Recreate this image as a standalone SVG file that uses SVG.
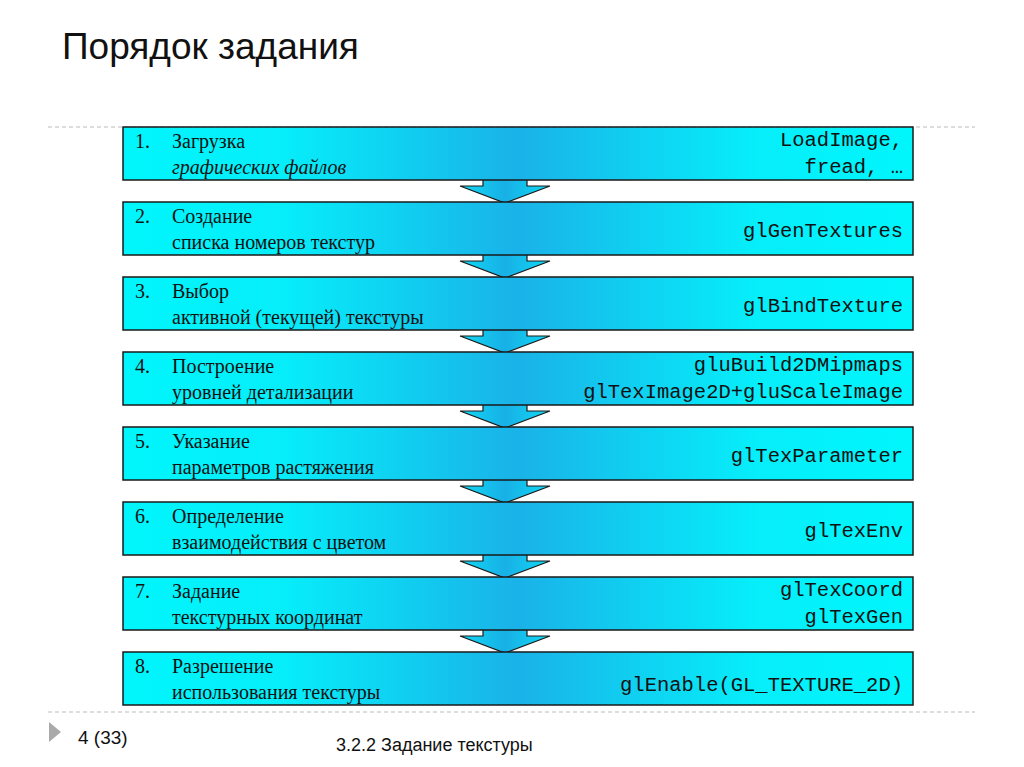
<svg xmlns="http://www.w3.org/2000/svg" width="1024" height="767" viewBox="0 0 1024 767">
<defs>
<linearGradient id="g" x1="0" y1="0" x2="1" y2="0">
<stop offset="0" stop-color="#00f6fc"/><stop offset="0.2" stop-color="#06eefa"/><stop offset="0.5" stop-color="#1ab2e8"/><stop offset="0.8" stop-color="#06eefa"/><stop offset="1" stop-color="#00f6fc"/>
</linearGradient>
<linearGradient id="ga" x1="0" y1="0" x2="1" y2="0">
<stop offset="0" stop-color="#10d8f4"/><stop offset="0.5" stop-color="#18b0e6"/><stop offset="1" stop-color="#10d8f4"/>
</linearGradient>
<style>
.b{fill:url(#g);stroke:#1a1a1a;stroke-width:1.5}
.a{fill:url(#ga);stroke:#1a1a1a;stroke-width:1.2}
.t{font-family:"Liberation Serif",serif;font-size:20px;fill:#111}
.m{font-family:"Liberation Mono",monospace;font-size:20.5px;fill:#111;text-anchor:end}
.d{stroke:#bbb;stroke-dasharray:4 3;stroke-width:1.2}
</style>
</defs>
<rect width="1024" height="767" fill="#fff"/>
<text x="62" y="59" font-family="Liberation Sans,sans-serif" font-size="37" fill="#111">Порядок задания</text>
<line class="d" x1="48" y1="127" x2="975" y2="127"/>
<line class="d" x1="48" y1="712" x2="975" y2="712"/>
<g id="connectors">
<path class="a" d="M483 180V186H460L505 203L550 186H527V180"/>
<path class="a" d="M483 255V261H460L505 278L550 261H527V255"/>
<path class="a" d="M483 330V336H460L505 353L550 336H527V330"/>
<path class="a" d="M483 405V411H460L505 428L550 411H527V405"/>
<path class="a" d="M483 480V486H460L505 503L550 486H527V480"/>
<path class="a" d="M483 555V561H460L505 578L550 561H527V555"/>
<path class="a" d="M483 630V636H460L505 653L550 636H527V630"/>
</g>
<g id="n1"><rect class="b" x="123" y="127" width="790" height="53"/><text class="t" x="135" y="148">1.</text><text class="t" x="172" y="148">Загрузка</text><text class="t" x="172" y="174" font-style="italic">графических файлов</text><text class="m" x="903" y="146">LoadImage,</text><text class="m" x="903" y="173">fread, …</text></g>
<g id="n2"><rect class="b" x="123" y="202" width="790" height="53"/><text class="t" x="135" y="223">2.</text><text class="t" x="172" y="223">Создание</text><text class="t" x="172" y="249">списка номеров текстур</text><text class="m" x="903" y="237">glGenTextures</text></g>
<g id="n3"><rect class="b" x="123" y="277" width="790" height="53"/><text class="t" x="135" y="298">3.</text><text class="t" x="172" y="298">Выбор</text><text class="t" x="172" y="324">активной (текущей) текстуры</text><text class="m" x="903" y="312">glBindTexture</text></g>
<g id="n4"><rect class="b" x="123" y="352" width="790" height="53"/><text class="t" x="135" y="373">4.</text><text class="t" x="172" y="373">Построение</text><text class="t" x="172" y="399">уровней детализации</text><text class="m" x="903" y="371">gluBuild2DMipmaps</text><text class="m" x="903" y="398">glTexImage2D+gluScaleImage</text></g>
<g id="n5"><rect class="b" x="123" y="427" width="790" height="53"/><text class="t" x="135" y="448">5.</text><text class="t" x="172" y="448">Указание</text><text class="t" x="172" y="474">параметров растяжения</text><text class="m" x="903" y="462">glTexParameter</text></g>
<g id="n6"><rect class="b" x="123" y="502" width="790" height="53"/><text class="t" x="135" y="523">6.</text><text class="t" x="172" y="523">Определение</text><text class="t" x="172" y="549">взаимодействия с цветом</text><text class="m" x="903" y="537">glTexEnv</text></g>
<g id="n7"><rect class="b" x="123" y="577" width="790" height="53"/><text class="t" x="135" y="598">7.</text><text class="t" x="172" y="598">Задание</text><text class="t" x="172" y="624">текстурных координат</text><text class="m" x="903" y="596">glTexCoord</text><text class="m" x="903" y="623">glTexGen</text></g>
<g id="n8"><rect class="b" x="123" y="652" width="790" height="53"/><text class="t" x="135" y="673">8.</text><text class="t" x="172" y="673">Разрешение</text><text class="t" x="172" y="699">использования текстуры</text><text class="m" x="903" y="691">glEnable(GL_TEXTURE_2D)</text></g>
<path d="M49 722L61 732L49 742Z" fill="#aaa"/>
<text x="78" y="744" font-family="Liberation Sans,sans-serif" font-size="19" fill="#111">4 (33)</text>
<text x="336" y="751" font-family="Liberation Sans,sans-serif" font-size="18" fill="#111">3.2.2 Задание текстуры</text>
</svg>
